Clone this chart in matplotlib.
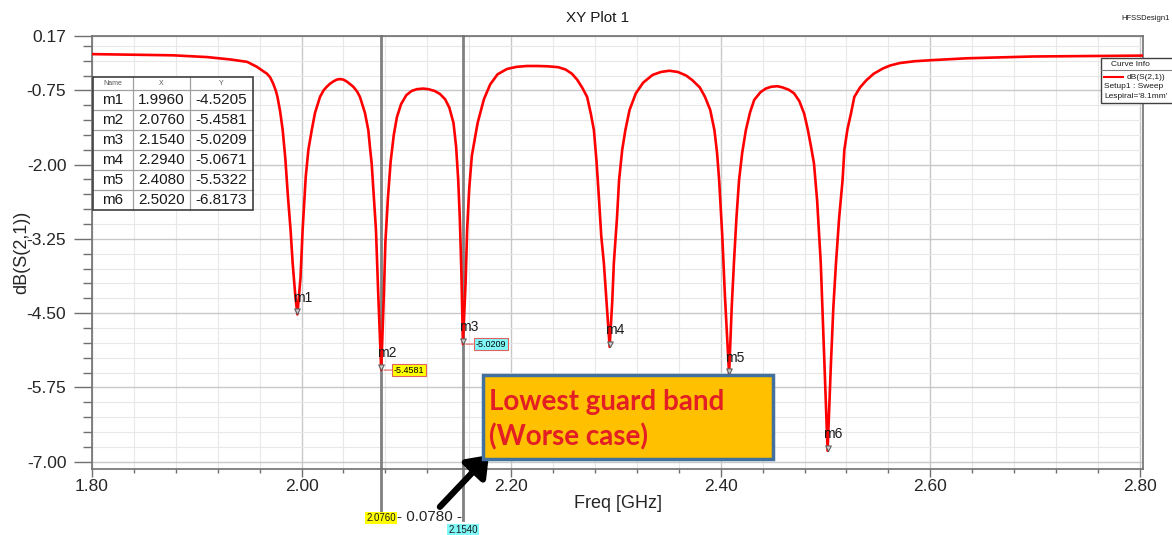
import numpy as np
import matplotlib.pyplot as plt
from matplotlib.patches import Rectangle
from matplotlib.path import Path
from matplotlib.transforms import blended_transform_factory

plt.rcParams['font.family'] = ['Liberation Sans', 'DejaVu Sans']

# swept S21 of the spiral filter (GHz / dB), points between the markers
sweep_freq = [1.800, 1.840, 1.877, 1.910, 1.932, 1.948, 1.957, 1.962, 1.967, 1.970, 1.973, 1.9755, 1.977,
              1.9795, 1.982, 1.9845, 1.987, 1.9895, 1.9915, 1.994,
              1.999, 2.001, 2.004, 2.0065, 2.0097, 2.0128, 2.0176, 2.021, 2.024, 2.027, 2.0303, 2.0335,
              2.0366, 2.040, 2.043, 2.046, 2.0494, 2.053, 2.0557, 2.0605, 2.0637, 2.0655, 2.0669, 2.069,
              2.071, 2.073,
              2.0785, 2.080, 2.0825, 2.085, 2.088, 2.091, 2.095, 2.100, 2.105, 2.110, 2.116, 2.121, 2.127,
              2.132, 2.137, 2.141, 2.145, 2.1475, 2.1495, 2.151, 2.1525,
              2.1565, 2.158, 2.160, 2.1625, 2.165, 2.168, 2.174, 2.180, 2.187, 2.196, 2.205, 2.215, 2.225,
              2.235, 2.245, 2.252, 2.258, 2.263, 2.268, 2.2725, 2.276, 2.279, 2.2815, 2.2837, 2.286,
              2.2885, 2.291,
              2.2965, 2.298, 2.301, 2.303, 2.306, 2.309, 2.313, 2.319, 2.326, 2.335, 2.343, 2.351, 2.359,
              2.367, 2.373, 2.380, 2.385, 2.390, 2.394, 2.3965, 2.3985, 2.4015, 2.404,
              2.4105, 2.4126, 2.415, 2.4175, 2.4205, 2.424, 2.428, 2.432, 2.438, 2.443, 2.448, 2.454,
              2.459, 2.465, 2.470, 2.475, 2.4796, 2.483, 2.486, 2.489, 2.492, 2.4955, 2.499,
              2.5052, 2.5075, 2.510, 2.513, 2.5163, 2.518, 2.521, 2.5243, 2.5275, 2.533, 2.539, 2.546,
              2.555, 2.562, 2.571, 2.585, 2.603, 2.635, 2.665, 2.698, 2.762, 2.803]
sweep_db = [-0.14, -0.15, -0.16, -0.19, -0.23, -0.27, -0.35, -0.41, -0.47, -0.53, -0.64, -0.76, -0.86,
            -1.10, -1.42, -1.90, -2.54, -3.10, -3.66, -4.20,
            -3.90, -3.10, -2.20, -1.75, -1.42, -1.13, -0.86, -0.75, -0.69, -0.64, -0.60, -0.57,
            -0.56, -0.57, -0.60, -0.64, -0.69, -0.77, -0.86, -1.13, -1.42, -1.75, -1.98, -2.55,
            -3.10, -4.10,
            -4.20, -3.30, -2.54, -1.95, -1.50, -1.20, -0.98, -0.83, -0.76, -0.73, -0.72, -0.73, -0.76,
            -0.81, -0.90, -1.04, -1.30, -1.70, -2.26, -2.90, -3.80,
            -4.00, -3.10, -2.40, -1.85, -1.60, -1.30, -0.90, -0.65, -0.48, -0.39, -0.355, -0.34, -0.34,
            -0.345, -0.36, -0.40, -0.47, -0.57, -0.71, -0.86, -1.14, -1.42, -1.95, -2.54, -3.20,
            -3.66, -4.30,
            -4.30, -3.66, -2.90, -2.26, -1.75, -1.42, -1.08, -0.80, -0.62, -0.49, -0.44, -0.42, -0.44,
            -0.50, -0.58, -0.70, -0.86, -1.08, -1.42, -1.80, -2.26, -3.20, -4.20,
            -4.40, -3.66, -2.90, -2.26, -1.80, -1.42, -1.12, -0.91, -0.78, -0.72, -0.69, -0.68,
            -0.70, -0.74, -0.80, -0.93, -1.14, -1.40, -1.68, -1.98, -2.60, -3.66, -5.34,
            -5.34, -4.40, -3.66, -2.90, -2.26, -1.75, -1.40, -1.14, -0.86, -0.70, -0.58, -0.47,
            -0.38, -0.33, -0.29, -0.26, -0.24, -0.21, -0.195, -0.18, -0.17, -0.165]

# marker readout
marker_names = ['m1', 'm2', 'm3', 'm4', 'm5', 'm6']
marker_freq = [1.9960, 2.0760, 2.1540, 2.2940, 2.4080, 2.5020]
marker_db = [-4.5205, -5.4581, -5.0209, -5.0671, -5.5322, -6.8173]

x_ticks = [1.80, 2.00, 2.20, 2.40, 2.60, 2.80]
y_ticks = [0.17, -0.75, -2.00, -3.25, -4.50, -5.75, -7.00]

# delta markers m2 -> m3
delta_pair = (1, 2)
delta_colors = ['#ffff00', '#80f8f8']

W, H = 1172, 535
fig = plt.figure(figsize=(W / 100, H / 100), dpi=100)
ax = fig.add_axes([92 / W, 1 - 469 / H, (1143 - 92) / W, (469 - 35.7) / H])

freq = np.concatenate([sweep_freq, marker_freq])
db = np.concatenate([sweep_db, marker_db])
order = np.argsort(freq)
ax.plot(freq[order], db[order], color='#ff0000', lw=1.9, zorder=3,
        solid_joinstyle='round', solid_capstyle='round')

ax.set_xlim(1.80, 2.803)
ax.set_ylim(-7.123, 0.17)
ax.set_xticks(x_ticks)
ax.set_xticklabels([f'{v:.2f}' for v in x_ticks])
ax.set_xticks(np.arange(1.80, 2.8001, 0.04), minor=True)
ax.set_yticks(y_ticks)
ax.set_yticklabels([f'{v:.2f}' for v in y_ticks])
ax.set_yticks(np.arange(-7.0, 0.01, 0.25), minor=True)
ax.grid(which='major', color='#c8c8c8', lw=1.0, zorder=0)
ax.grid(which='minor', color='#e8e8e8', lw=0.8, zorder=0)
ax.set_axisbelow(True)
ax.tick_params(axis='y', which='major', length=13, width=1, color='#707070', pad=5.5,
               labelsize=12.5, labelcolor='#262626')
ax.tick_params(axis='y', which='minor', length=6.5, width=1, color='#707070')
ax.tick_params(axis='x', which='major', length=5.5, width=1, color='#707070', pad=2,
               labelsize=12.5, labelcolor='#262626')
ax.tick_params(axis='x', which='minor', length=3, width=1, color='#707070')
for s in ax.spines.values():
    s.set_color('#707070')
    s.set_linewidth(1.2)

ax.set_ylabel('dB(S(2,1))', fontsize=13, color='#262626')
ax.yaxis.set_label_coords(-0.0585, 0.5)
ax.set_xlabel('Freq [GHz]', fontsize=13, color='#262626', va='center')
ax.xaxis.set_label_coords(0.5, -0.0785)

# marker glyphs: small triangle with its tip on the point
tip = Path([(-0.5, 1.0), (0.5, 1.0), (0.0, 0.0), (-0.5, 1.0)],
           [Path.MOVETO, Path.LINETO, Path.LINETO, Path.CLOSEPOLY])
ax.plot(marker_freq, marker_db, ls='none', marker=tip, ms=8, mfc='#d0d0d0', mec='#606060',
        mew=0.8, zorder=4)
for name, mf, md in zip(marker_names, marker_freq, marker_db):
    ax.annotate(name, (mf, md), xytext=(-3, 12), textcoords='offset points', fontsize=10,
                ha='left', va='center', color='#1a1a1a', zorder=5)

# delta marker lines, value tags and the spacing readout
trans = blended_transform_factory(ax.transData, ax.transAxes)
line_ends = [-0.1015, -0.118]
tag_y = [-0.113, -0.1416]
for i, c, yb, ty in zip(delta_pair, delta_colors, line_ends, tag_y):
    ax.plot([marker_freq[i], marker_freq[i]], [1, yb], transform=trans, color='#808080',
            lw=2, clip_on=False, zorder=2)
    ax.annotate(f'{marker_db[i]:.4f}', (marker_freq[i], marker_db[i]), xytext=(9, 0),
                textcoords='offset points', fontsize=6.5, ha='left', va='center', zorder=6,
                bbox=dict(boxstyle='square,pad=0.2', fc=c, ec='#e06060', lw=0.8),
                arrowprops=dict(arrowstyle='-', color='#e06060', lw=0.8, shrinkA=0, shrinkB=2))
    ax.text(marker_freq[i], ty, f'{marker_freq[i]:.4f}', transform=trans, ha='center',
            va='center', fontsize=7, color='#1a1a1a', clip_on=False, zorder=6,
            bbox=dict(boxstyle='square,pad=0.15', fc=c, ec='none'))
fa, fb = marker_freq[delta_pair[0]], marker_freq[delta_pair[1]]
ax.text(fa + 0.585 * (fb - fa), -0.1105, f'- {fb - fa:.4f} -', transform=trans, ha='center',
        va='center', fontsize=11, color='#262626', clip_on=False)

ax.annotate('', xy=(2.1788, -6.888), xytext=(2.132, -7.76),
            arrowprops=dict(arrowstyle='-|>,head_length=0.6,head_width=0.45', lw=4.5,
                            color='black', mutation_scale=20, shrinkA=0, shrinkB=0),
            annotation_clip=False, zorder=7)

# overlay in pixel units for the boxed annotations
ov = fig.add_axes([0, 0, 1, 1])
ov.set_xlim(0, W)
ov.set_ylim(H, 0)
ov.axis('off')

ov.text(598, 18, 'XY Plot 1', ha='center', va='center', fontsize=11, color='#1a1a1a')
ov.text(1170, 18, 'HFSSDesign1', ha='right', va='center', fontsize=5.5, color='#1a1a1a')

# marker table
cols = [92.7, 133, 190, 252.7]
rows = [76.7, 90] + [90 + 20 * (k + 1) for k in range(6)]
ov.add_patch(Rectangle((cols[0], rows[0]), cols[-1] - cols[0], rows[-1] - rows[0],
                       fc='white', ec='none', zorder=1))
for x in cols[1:-1]:
    ov.plot([x, x], [rows[0], rows[-1]], color='#a0a0a0', lw=0.9, zorder=2)
for y in rows[1:-1]:
    ov.plot([cols[0], cols[-1]], [y, y], color='#a0a0a0', lw=0.9, zorder=2)
ov.add_patch(Rectangle((cols[0], rows[0]), cols[-1] - cols[0], rows[-1] - rows[0],
                       fc='none', ec='#404040', lw=1.2, zorder=3))
for j, head in enumerate(['Name', 'X', 'Y']):
    ov.text((cols[j] + cols[j + 1]) / 2, (rows[0] + rows[1]) / 2, head, ha='center',
            va='center', fontsize=5, color='#555555', zorder=4)
for k, (name, mf, md) in enumerate(zip(marker_names, marker_freq, marker_db)):
    yc = (rows[k + 1] + rows[k + 2]) / 2
    for j, s in enumerate([name, f'{mf:.4f}', f'{md:.4f}']):
        ov.text((cols[j] + cols[j + 1]) / 2, yc, s, ha='center', va='center', fontsize=11,
                color='#1a1a1a', zorder=4)

# curve info box
ov.add_patch(Rectangle((1100.7, 57.7), 80, 45, fc='white', ec='#404040', lw=1, zorder=3))
ov.plot([1100.7, 1180], [70, 70], color='#808080', lw=0.8, zorder=4)
ov.text(1130, 64, 'Curve Info', ha='center', va='center', fontsize=6, color='#1a1a1a', zorder=5)
ov.plot([1104, 1122.7], [77.3, 77.3], color='#ff0000', lw=1.5, zorder=5)
ov.text(1126.7, 77.3, 'dB(S(2,1))', ha='left', va='center', fontsize=6, color='#1a1a1a', zorder=5)
ov.text(1104, 87, 'Setup1 : Sweep', ha='left', va='center', fontsize=6, color='#1a1a1a', zorder=5)
ov.text(1104, 97, "Lespiral='8.1mm'", ha='left', va='center', fontsize=6, color='#1a1a1a', zorder=5)

# guard band callout
ov.add_patch(Rectangle((482.7, 375), 773 - 482.7, 459 - 375, fc='#ffc000', ec='#41719c',
                       lw=2.5, zorder=3))
ov.text(489, 401.7, 'Lowest guard band', ha='left', va='center', fontsize=20, fontweight='bold',
        color='#e31e24', family=['Lato', 'DejaVu Sans'], zorder=4)
ov.text(489, 437, '(Worse case)', ha='left', va='center', fontsize=20, fontweight='bold',
        color='#e31e24', family=['Lato', 'DejaVu Sans'], zorder=4)

fig.savefig('out.png', dpi=100)
